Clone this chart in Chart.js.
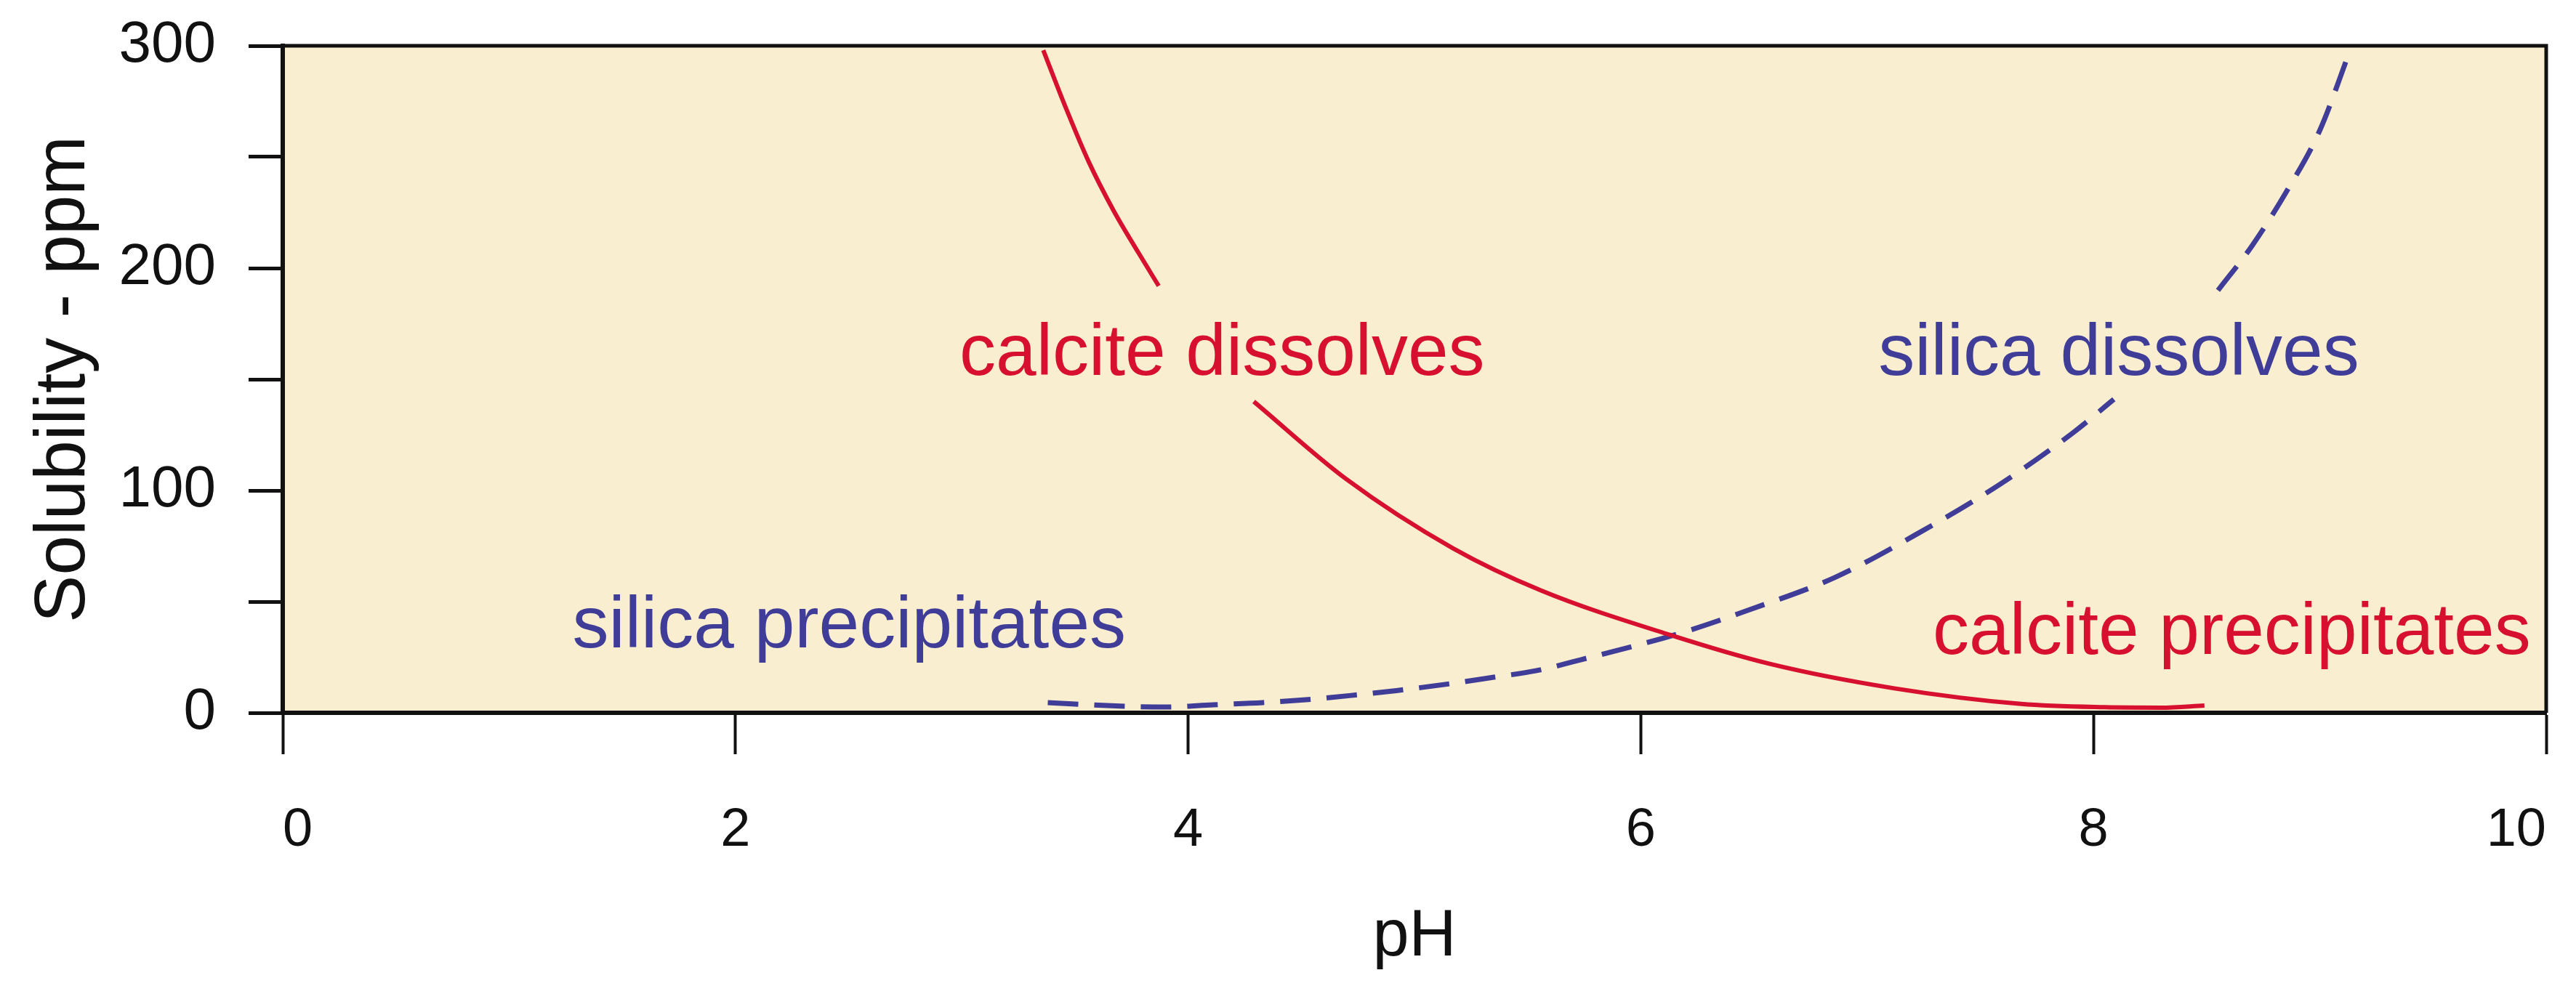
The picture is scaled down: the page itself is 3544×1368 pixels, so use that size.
<!DOCTYPE html>
<html>
<head>
<meta charset="utf-8">
<title>Solubility vs pH</title>
<script src="https://cdn.jsdelivr.net/npm/chart.js@4.4.1/dist/chart.umd.min.js"></script>
<style>
  html, body { margin: 0; padding: 0; background: #ffffff; }
  canvas { display: block; }
</style>
</head>
<body>
<canvas id="myChart" width="3544" height="1368"></canvas>
<script>
// calcite curve (null = break for the label)
const calcitePH  = [3.36, 3.46, 3.56, 3.67, 3.78, 3.87, 4.1, 4.29, 4.70, 5.17, 5.56, 6.13, 6.57, 7.12, 7.68, 8.05, 8.30, 8.49];
const calcitePPM = [298, 272, 248, 226, 207, 192, null, 140, 105, 74, 55, 35, 22, 11, 4, 2.5, 2.3, 3.3];

// silica curve (dashed)
const silicaPH  = [3.38, 3.70, 3.90, 4.11, 4.33, 4.52, 4.72, 4.92, 5.13, 5.35, 5.54, 5.74, 6.18, 6.47, 6.86, 7.23, 7.59, 7.91, 8.09, 8.3, 8.55, 8.70, 8.85, 9.00, 9.13];
const silicaPPM = [4.6, 3, 2.6, 3.6, 4.6, 5.9, 7.8, 10, 12.7, 16, 19, 24, 36, 46, 61, 81, 103, 126, 141, null, 190, 210, 234, 262, 297];

// tick labels
const yTickLabels = [0, 100, 200, 300];

// text notes in the plot (left edge pH, baseline ppm)
const noteText = ['calcite dissolves', 'silica dissolves', 'silica precipitates', 'calcite precipitates'];
const notePH   = [2.99, 7.05, 1.28, 7.29];
const notePPM  = [152, 152, 29.4, 26.5];

const RED = '#d6102e';
const BLUE = '#403d99';
const FONT = "'Liberation Sans', Arial, Helvetica, sans-serif";

const toPoints = (xs, ys) => xs.map((x, i) => ({ x: x, y: ys[i] }));

const plotBox = {
    id: 'plotBox',
    beforeDraw(chart) {
        const { ctx, chartArea: a } = chart;
        ctx.save();
        ctx.fillStyle = '#ffffff';
        ctx.fillRect(0, 0, chart.width, chart.height);
        ctx.fillStyle = '#f9eecf';
        ctx.fillRect(a.left, a.top, a.right - a.left, a.bottom - a.top);
        ctx.restore();
    },
    afterDraw(chart) {
        const { ctx, chartArea: a } = chart;
        ctx.save();
        ctx.strokeStyle = '#111111';
        ctx.lineWidth = 5;
        ctx.beginPath();
        ctx.moveTo(a.left, a.top);
        ctx.lineTo(a.right, a.top);
        ctx.lineTo(a.right, a.bottom);
        ctx.stroke();
        ctx.restore();
    }
};

const notes = {
    id: 'notes',
    afterDatasetsDraw(chart) {
        const { ctx, scales } = chart;
        const colors = [RED, BLUE, BLUE, RED];
        ctx.save();
        ctx.font = '100px ' + FONT;
        ctx.textAlign = 'left';
        ctx.textBaseline = 'alphabetic';
        noteText.forEach((t, i) => {
            ctx.fillStyle = colors[i];
            ctx.fillText(t, scales.x.getPixelForValue(notePH[i]), scales.y.getPixelForValue(notePPM[i]));
        });
        ctx.restore();
    }
};

const myChart = new Chart(document.getElementById('myChart'), {
    type: 'line',
    data: {
        datasets: [{
            label: 'calcite',
            data: toPoints(calcitePH, calcitePPM),
            borderColor: RED,
            borderWidth: 6,
            pointRadius: 0,
            cubicInterpolationMode: 'monotone',
            fill: false
        }, {
            label: 'silica',
            data: toPoints(silicaPH, silicaPPM),
            borderColor: BLUE,
            borderWidth: 7,
            borderDash: [42, 22],
            pointRadius: 0,
            cubicInterpolationMode: 'monotone',
            fill: false
        }]
    },
    options: {
        responsive: false,
        animation: false,
        layout: { padding: { top: 63, right: 41, left: 0, bottom: 0 } },
        plugins: {
            legend: { display: false },
            tooltip: { enabled: false }
        },
        scales: {
            x: {
                type: 'linear',
                min: 0,
                max: 10,
                afterFit(scale) {
                    scale.height = 387;
                    scale.paddingLeft = 0;
                    scale.paddingRight = 0;
                },
                ticks: {
                    stepSize: 2,
                    color: '#111111',
                    padding: 61,
                    maxRotation: 0,
                    align: 'inner',
                    font: { family: FONT, size: 74 }
                },
                grid: {
                    drawOnChartArea: false,
                    drawTicks: true,
                    tickLength: 57,
                    tickWidth: 4,
                    color: '#111111'
                },
                border: { display: true, color: '#111111', width: 6 },
                title: {
                    display: true,
                    text: 'pH',
                    color: '#111111',
                    font: { family: FONT, size: 90 },
                    padding: { top: 0, bottom: 24 }
                }
            },
            y: {
                type: 'linear',
                min: 0,
                max: 300,
                afterFit(scale) {
                    scale.width = 389;
                    scale.paddingTop = 0;
                    scale.paddingBottom = 0;
                },
                ticks: {
                    stepSize: 50,
                    color: '#111111',
                    padding: 45,
                    font: { family: FONT, size: 80 },
                    callback: (v) => yTickLabels.includes(v) ? String(v) : ''
                },
                grid: {
                    drawOnChartArea: false,
                    drawTicks: true,
                    tickLength: 47,
                    tickWidth: 5,
                    color: '#111111'
                },
                border: { display: true, color: '#111111', width: 6 },
                title: {
                    display: true,
                    text: 'Solubility - ppm',
                    color: '#111111',
                    font: { family: FONT, size: 98 },
                    padding: { top: 30, bottom: 0 }
                }
            }
        }
    },
    plugins: [plotBox, notes]
});
</script>
</body>
</html>
